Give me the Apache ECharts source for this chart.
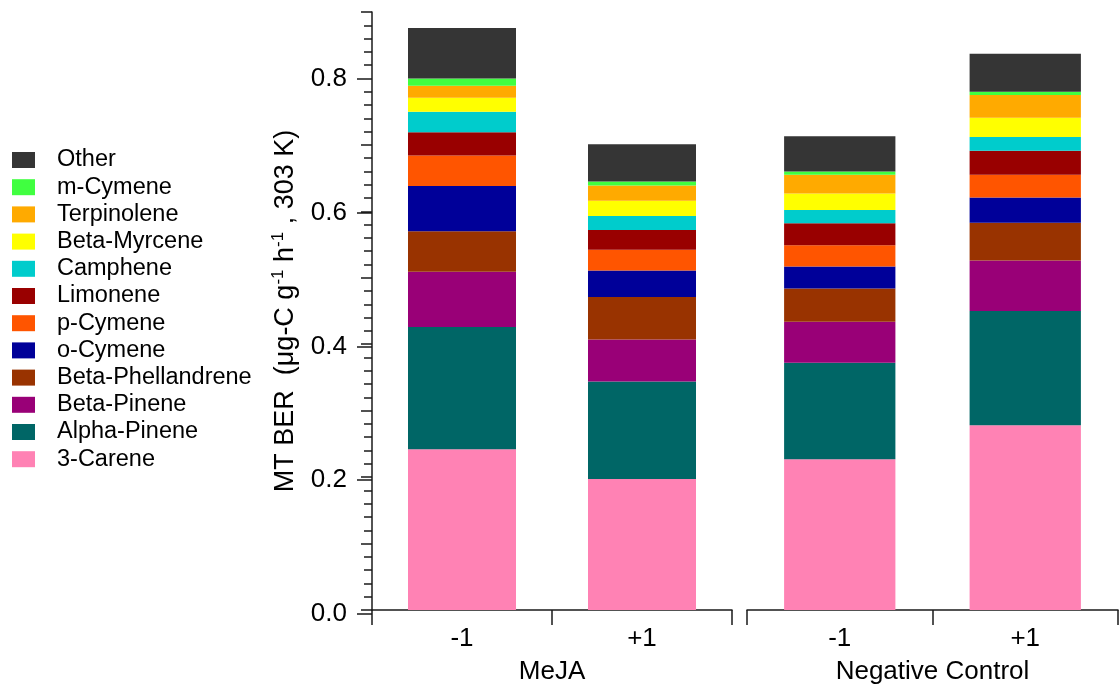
<!DOCTYPE html>
<html>
<head>
<meta charset="utf-8">
<title>MT BER by treatment</title>
<script src="https://cdn.jsdelivr.net/npm/echarts@6/dist/echarts.min.js"></script>
<style>
  html, body { margin: 0; padding: 0; background: #ffffff; }
  #chart { width: 1119px; height: 690px; }
</style>
</head>
<body>
<div id="chart"></div>
<script>
// Treatment groups and the two levels inside each group
const groups = ['MeJA', 'Negative Control'];
const levels = ['-1', '+1'];

// Compounds, bottom of the stack first
const compounds = ['3-Carene', 'Alpha-Pinene', 'Beta-Pinene', 'Beta-Phellandrene', 'o-Cymene',
  'p-Cymene', 'Limonene', 'Camphene', 'Beta-Myrcene', 'Terpinolene', 'm-Cymene', 'Other'];

// Emission rates, [MeJA -1, MeJA +1, Negative Control -1, Negative Control +1]
const carene        = [0.242, 0.197, 0.227, 0.278];
const alphaPinene   = [0.184, 0.147, 0.145, 0.172];
const betaPinene    = [0.083, 0.063, 0.062, 0.076];
const phellandrene  = [0.061, 0.064, 0.050, 0.057];
const oCymene       = [0.068, 0.040, 0.033, 0.038];
const pCymene       = [0.046, 0.031, 0.032, 0.034];
const limonene      = [0.035, 0.030, 0.033, 0.036];
const camphene      = [0.031, 0.021, 0.020, 0.021];
const myrcene       = [0.021, 0.023, 0.025, 0.029];
const terpinolene   = [0.018, 0.023, 0.028, 0.034];
const mCymene       = [0.011, 0.006, 0.005, 0.005];
const other         = [0.076, 0.056, 0.053, 0.057];

const values = [carene, alphaPinene, betaPinene, phellandrene, oCymene, pCymene,
  limonene, camphene, myrcene, terpinolene, mCymene, other];

const colors = ['#ff82b4', '#006666', '#990077', '#993300', '#000099', '#ff5500',
  '#990000', '#00cccc', '#ffff00', '#ffaa00', '#40ff40', '#353535'];

// Y axis ticks
const yMax = 0.9;
const yLabelMax = 0.8;
const yLabelStep = 0.2;

// Plot geometry (pixels)
const plotBottom = 614;
const plotTop = 12;
const pxPerUnit = (plotBottom - plotTop) / yMax;
const FONT = '"Liberation Sans", Arial, Helvetica, sans-serif';
const AXIS_COLOR = '#1a1a1a';

const chart = echarts.init(document.getElementById('chart'), null, { renderer: 'canvas' });

const series = [];
compounds.forEach((name, i) => {
  [0, 1].forEach(g => {
    series.push({
      name: name,
      type: 'bar',
      stack: 'g' + g,
      xAxisIndex: g,
      yAxisIndex: g,
      barWidth: '60%',
      itemStyle: { color: colors[i] },
      emphasis: { disabled: true },
      data: values[i].slice(g * 2, g * 2 + 2)
    });
  });
});

const xAxisCommon = {
  type: 'category',
  data: levels,
  nameLocation: 'middle',
  nameGap: 49,
  nameTextStyle: { fontFamily: FONT, fontSize: 26, color: '#000' },
  axisLine: { lineStyle: { color: AXIS_COLOR, width: 1.5 } },
  axisTick: { show: true, inside: false, length: 15, lineStyle: { color: AXIS_COLOR, width: 1.5 } },
  axisLabel: { fontFamily: FONT, fontSize: 26, color: '#000', margin: 16 },
  splitLine: { show: false }
};

const option = {
  animation: false,
  backgroundColor: '#ffffff',
  color: colors,
  legend: {
    orient: 'vertical',
    left: 7,
    top: 143,
    itemWidth: 23,
    itemHeight: 16,
    itemGap: 3.2,
    icon: 'rect',
    selectedMode: false,
    data: compounds.slice().reverse(),
    textStyle: { fontFamily: FONT, fontSize: 23.5, color: '#000', lineHeight: 22, padding: [0, 0, 0, 17] }
  },
  grid: [
    { left: 372, width: 360, top: plotTop, bottom: 690 - plotBottom },
    { left: 747, width: 371, top: plotTop, bottom: 690 - plotBottom },
    { left: 372, width: 360, top: plotBottom - yLabelMax * pxPerUnit, bottom: 690 - plotBottom }
  ],
  xAxis: [
    Object.assign({}, xAxisCommon, { gridIndex: 0, name: groups[0] }),
    Object.assign({}, xAxisCommon, { gridIndex: 1, name: groups[1] }),
    { type: 'category', gridIndex: 2, data: levels, show: false }
  ],
  yAxis: [
    {
      type: 'value', gridIndex: 0, min: 0, max: yMax, interval: 0.1,
      name: 'MT BER  (μg-C g{sup|-1} h{sup|-1} , 303 K)',
      nameLocation: 'middle',
      nameGap: 70,
      nameTextStyle: {
        fontFamily: FONT, fontSize: 27, color: '#000', lineHeight: 32,
        rich: { sup: { fontFamily: FONT, fontSize: 17, color: '#000', verticalAlign: 'top', lineHeight: 17 } }
      },
      axisLine: { show: true, lineStyle: { color: AXIS_COLOR, width: 1.5 } },
      axisTick: { show: true, length: 11, lineStyle: { color: AXIS_COLOR, width: 1.5 } },
      minorTick: { show: true, splitNumber: 5, length: 8, lineStyle: { color: AXIS_COLOR, width: 1.5 } },
      axisLabel: { show: false },
      splitLine: { show: false },
      minorSplitLine: { show: false }
    },
    { type: 'value', gridIndex: 1, min: 0, max: yMax, show: false, splitLine: { show: false } },
    {
      type: 'value', gridIndex: 2, min: 0, max: yLabelMax, interval: yLabelStep,
      axisLine: { show: false },
      axisTick: { show: true, length: 15, lineStyle: { color: AXIS_COLOR, width: 1.5 } },
      axisLabel: {
        fontFamily: FONT, fontSize: 26, color: '#000', margin: 25,
        formatter: v => v.toFixed(1)
      },
      splitLine: { show: false }
    }
  ],
  series: series
};

chart.setOption(option);
</script>
</body>
</html>
